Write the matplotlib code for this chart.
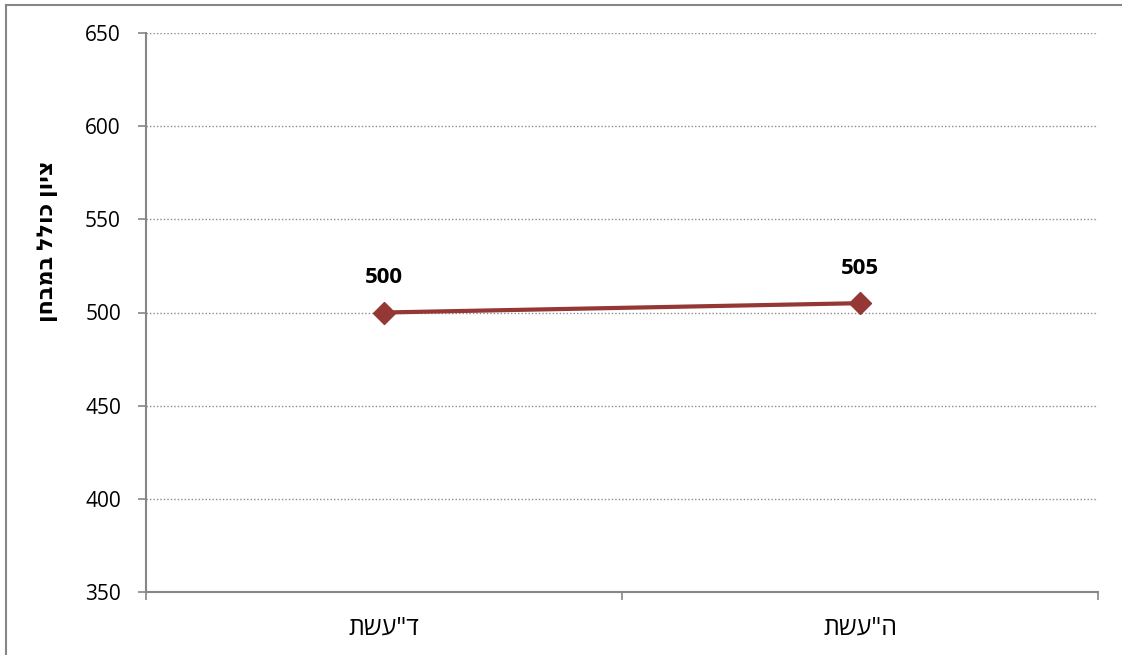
import matplotlib
matplotlib.use("Agg")
import matplotlib.pyplot as plt
from matplotlib.lines import Line2D
from matplotlib.ticker import FixedLocator, NullFormatter

plt.rcParams['font.family'] = ['Open Sans', 'DejaVu Sans']

categories = ['תשע"ד', 'תשע"ה']
scores = [500, 505]
y_ticks = [350, 400, 450, 500, 550, 600, 650]
y_label = 'ציון כולל במבחן'


def vis(s):
    # matplotlib has no bidi support: reverse Hebrew for visual order
    return s[::-1]


W, H = 1122, 655
fig = plt.figure(figsize=(W / 100, H / 100), dpi=100)
ax = fig.add_axes([146 / W, 1 - 592 / H, (1098 - 146) / W, (592 - 33) / H])

xs = [i + 0.5 for i in range(len(categories))]
line_color = '#953735'
ax.plot(xs, scores, color=line_color, linewidth=3, marker='D', markersize=11,
        markerfacecolor=line_color, markeredgecolor=line_color, zorder=3)
for x, v in zip(xs, scores):
    ax.annotate(str(v), (x, v), xytext=(0, 25), textcoords='offset points',
                ha='center', va='center', fontsize=16, fontweight='bold',
                color='black')

ax.set_xlim(0, len(categories))
ax.set_ylim(y_ticks[0], y_ticks[-1])
ax.set_yticks(y_ticks)
ax.set_yticklabels([str(t) for t in y_ticks])

ax.xaxis.set_major_locator(FixedLocator(list(range(len(categories) + 1))))
ax.xaxis.set_major_formatter(NullFormatter())
ax.xaxis.set_minor_locator(FixedLocator(xs))
ax.set_xticklabels(categories, minor=True)
ax.tick_params(axis='x', which='minor', length=0, pad=17, labelsize=18)
ax.tick_params(axis='x', which='major', length=6, width=1.2, color='#868686')
ax.tick_params(axis='y', which='major', length=6, width=1.2, color='#868686',
               pad=12, labelsize=15)

for t in y_ticks[1:]:
    ax.axhline(t, color='#8c8c8c', linewidth=1, linestyle=(0, (1, 1.5)), zorder=1)

for side in ['top', 'right']:
    ax.spines[side].set_visible(False)
for side in ['left', 'bottom']:
    ax.spines[side].set_color('#868686')
    ax.spines[side].set_linewidth(1.5)

fig.text(47 / W, 1 - 241 / H, vis(y_label), rotation=90, ha='center',
         va='center', fontsize=16, fontweight='bold')

# outer chart border (top and left visible, extends beyond the image)
fig.add_artist(Line2D([6 / W, 6 / W], [0, 1 - 5 / H], transform=fig.transFigure,
                      color='#868686', linewidth=1.5))
fig.add_artist(Line2D([6 / W, 1], [1 - 5 / H, 1 - 5 / H], transform=fig.transFigure,
                      color='#868686', linewidth=1.5))

fig.savefig('out.png', dpi=100)
